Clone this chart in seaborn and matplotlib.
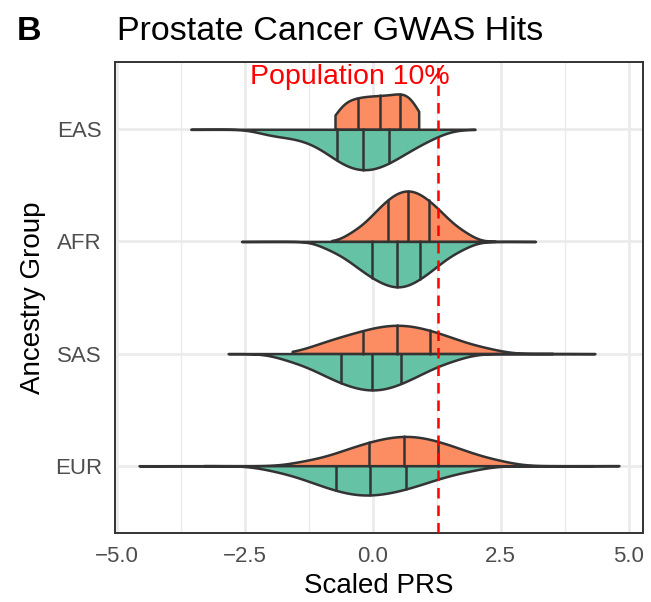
import numpy as np
import pandas as pd
import seaborn as sns
import matplotlib.pyplot as plt
from matplotlib.ticker import FixedLocator

# ancestry groups, top to bottom
groups = ["EAS", "AFR", "SAS", "EUR"]
status = ["Case", "Control"]

eas_case = [-0.690, -0.630, -0.560, -0.495, -0.430, -0.365, -0.301, -0.242, -0.184,
            -0.126, -0.068, -0.010, 0.049, 0.107, 0.164, 0.220, 0.277, 0.333, 0.390,
            0.446, 0.503, 0.557, 0.606, 0.655, 0.704, 0.760, 0.820, 0.870]
eas_ctrl = [-2.00, -1.62, -1.32, -1.10, -0.95, -0.82, -0.72, -0.64, -0.56,
            -0.49, -0.42, -0.35, -0.28, -0.21, -0.15, -0.08, -0.01, 0.05, 0.12,
            0.20, 0.27, 0.35, 0.44, 0.54, 0.65, 0.78, 0.94, 1.20]
afr_case = [-0.40, -0.17, -0.04, 0.06, 0.14, 0.22, 0.28, 0.35, 0.40,
            0.46, 0.51, 0.57, 0.62, 0.67, 0.72, 0.77, 0.82, 0.88, 0.93,
            0.99, 1.05, 1.11, 1.18, 1.26, 1.34, 1.44, 1.57, 1.80]
afr_ctrl = [-0.85, -0.57, -0.42, -0.30, -0.19, -0.11, -0.03, 0.05, 0.12,
            0.19, 0.25, 0.31, 0.38, 0.44, 0.50, 0.55, 0.61, 0.67, 0.73,
            0.80, 0.87, 0.94, 1.02, 1.10, 1.20, 1.31, 1.46, 1.72]
sas_case = [-1.20, -0.90, -0.76, -0.60, -0.45, -0.33, -0.22, -0.11, -0.02,
            0.08, 0.17, 0.25, 0.34, 0.43, 0.51, 0.59, 0.67, 0.76, 0.85,
            0.94, 1.04, 1.14, 1.25, 1.37, 1.51, 1.67, 1.88, 2.25]
sas_ctrl = [-1.65, -1.32, -1.12, -0.97, -0.85, -0.73, -0.64, -0.54, -0.45,
            -0.37, -0.29, -0.21, -0.13, -0.06, 0.02, 0.09, 0.17, 0.24, 0.32,
            0.41, 0.49, 0.58, 0.68, 0.79, 0.92, 1.06, 1.25, 1.58]
eur_case = [-1.30, -0.87, -0.65, -0.48, -0.33, -0.21, -0.09, 0.02, 0.12,
            0.22, 0.31, 0.40, 0.49, 0.58, 0.66, 0.75, 0.83, 0.92, 1.01,
            1.11, 1.20, 1.31, 1.42, 1.55, 1.69, 1.85, 2.07, 2.45]
eur_ctrl = [-1.90, -1.51, -1.29, -1.13, -0.99, -0.86, -0.75, -0.64, -0.55,
            -0.45, -0.36, -0.27, -0.19, -0.10, -0.02, 0.08, 0.17, 0.26, 0.35,
            0.46, 0.56, 0.67, 0.79, 0.92, 1.07, 1.25, 1.48, 1.88]

# single extreme observations per half (thin tails of the violins)
half_min = [-0.734, -3.55, -0.80, -2.56, -1.57, -2.82, -3.30, -4.56]
half_max = [0.900, 2.00, 2.40, 3.18, 3.52, 4.34, 4.81, 4.30]

# relative sample weight of each half (drives half-violin height, count scaling)
half_weight = [35, 40, 50, 45, 28, 36, 29, 29]

pop_cutoff = 1.28
x_ticks = [-5.0, -2.5, 0.0, 2.5, 5.0]
x_tick_labels = ["\u22125.0", "\u22122.5", "0.0", "2.5", "5.0"]

halves = [eas_case, eas_ctrl, afr_case, afr_ctrl, sas_case, sas_ctrl, eur_case, eur_ctrl]
frames = []
for i, vals in enumerate(halves):
    prs = np.concatenate([np.repeat(vals, half_weight[i]), [half_min[i], half_max[i]]])
    frames.append(pd.DataFrame({"prs": prs,
                                "group": groups[i // 2],
                                "status": status[i % 2]}))
df = pd.concat(frames, ignore_index=True)

sns.set_style("white")
plt.rcParams["font.family"] = ["Liberation Sans", "DejaVu Sans"]
plt.rcParams["text.color"] = "black"
plt.rcParams["axes.labelcolor"] = "black"

dark = "#333333"
fig = plt.figure(figsize=(6.51, 6.02), dpi=100)
ax = fig.add_axes([115 / 651, 1 - 533 / 602, 528 / 651, 471 / 602])

sns.violinplot(data=df, x="prs", y="group", hue="status", order=groups,
               hue_order=status, split=True, orient="h", inner="quart",
               density_norm="count", common_norm=True, cut=0, bw_method=0.38,
               width=0.9, gap=0, palette=["#FC8D62", "#66C2A5"], saturation=1,
               linecolor=dark, linewidth=1.8,
               inner_kws=dict(color=dark, linewidth=1.8),
               legend=False, ax=ax)

# ggplot style quantile marks are solid
for ln in ax.lines:
    ln.set_linestyle("-")

ax.axvline(pop_cutoff, color="red", linewidth=1.8, linestyle=(0, (4.2, 2.8)), zorder=5)
ax.text(-0.45, -0.40, "Population 10%", color="red", fontsize=20.5,
        ha="center", va="baseline")

ax.set_xlim(-5.03, 5.28)
ax.set_ylim(3.6, -0.6)
ax.set_xticks(x_ticks)
ax.set_xticklabels(x_tick_labels)
ax.xaxis.set_minor_locator(FixedLocator([-3.75, -1.25, 1.25, 3.75]))
ax.grid(True, which="major", color="#EBEBEB", linewidth=2.0)
ax.grid(True, which="minor", axis="x", color="#EBEBEB", linewidth=1.0)
ax.set_axisbelow(True)
for sp in ax.spines.values():
    sp.set_visible(True)
    sp.set_color(dark)
    sp.set_linewidth(1.4)
ax.tick_params(axis="both", which="major", length=5, width=1.4, color=dark,
               labelcolor="#4D4D4D", labelsize=16, pad=4.5)
ax.tick_params(axis="x", which="minor", length=0)
ax.set_xlabel("Scaled PRS", fontsize=20, labelpad=4)
ax.set_ylabel("Ancestry Group", fontsize=20, labelpad=6)

fig.text(16.5 / 651, 1 - 39.5 / 602, "B", fontsize=24.5, fontweight="bold",
         ha="left", va="baseline")
fig.text(117 / 651, 1 - 39.5 / 602, "Prostate Cancer GWAS Hits", fontsize=24.5,
         ha="left", va="baseline")

fig.savefig("out.png", dpi=100)
